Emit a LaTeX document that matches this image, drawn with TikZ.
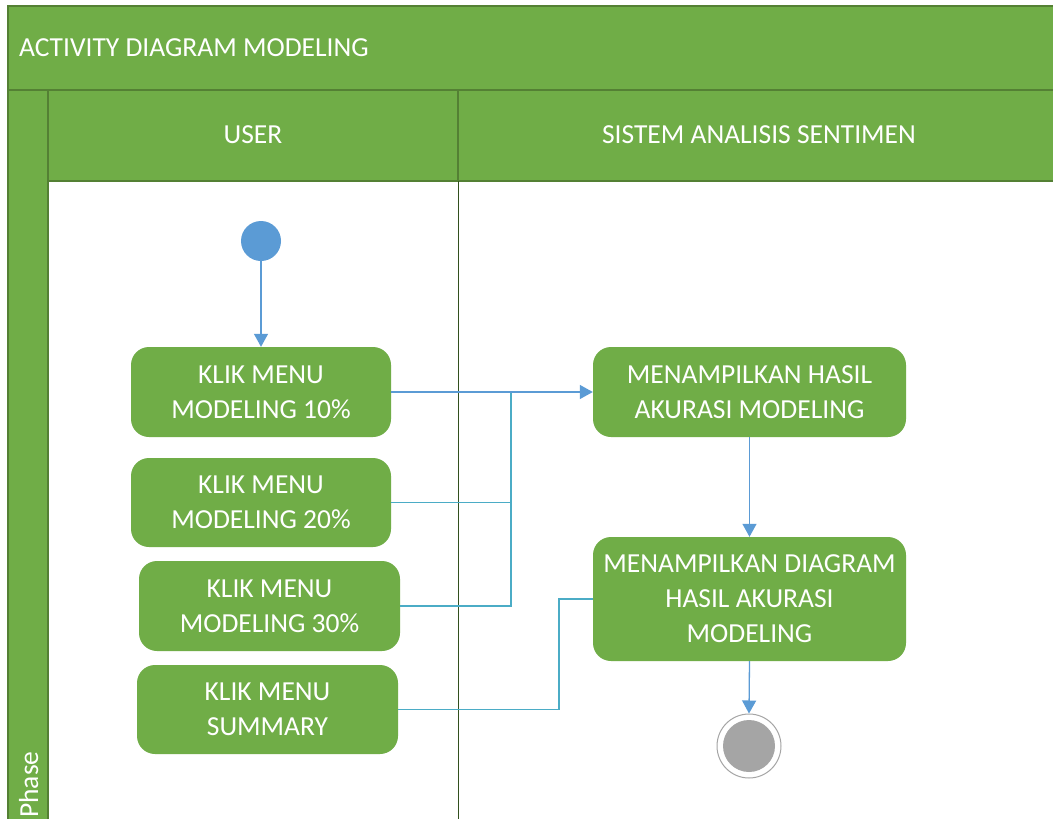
\documentclass[tikz,border=0pt]{standalone}
\usepackage{fontspec}
\setmainfont{Carlito}
\usetikzlibrary{arrows.meta}
\definecolor{lanegreen}{RGB}{112,173,71}
\definecolor{laneedge}{RGB}{84,128,52}
\definecolor{laneline}{RGB}{50,80,30}
\definecolor{flowblue}{RGB}{91,155,213}
\definecolor{joinblue}{RGB}{75,172,198}
\definecolor{endgray}{RGB}{165,165,165}
\begin{document}
\begin{tikzpicture}[x=1pt,y=-1pt,
  lane/.style={draw=laneedge, fill=lanegreen, line width=1.2pt},
  lbl/.style={text=white, inner sep=0pt, font=\fontsize{27.5}{35}\selectfont},
  act/.style={rectangle, rounded corners=18pt, fill=lanegreen, text=white,
    align=center, inner sep=0pt, font=\fontsize{27.5}{35}\selectfont},
  flow/.style={draw=flowblue, line width=1.3pt, -{Triangle[width=14pt,length=13pt]}},
  joinline/.style={draw=joinblue, line width=1.6pt}]
% canvas
\fill[white] (0,0) rectangle (1053,819);
\useasboundingbox (0,0) rectangle (1053,819);
\clip (0,0) rectangle (1053,819);

% pool and lanes
\draw[lane] (8,6) rectangle (1080,90);
\draw[lane] (8,90) rectangle (48,850);
\draw[lane] (48,90) rectangle (458,181);
\draw[lane] (458,90) rectangle (1080,181);
\draw[laneline, line width=1pt] (458,181) -- (458,850);

\node[lbl, anchor=west] (title) at (19,48) {ACTIVITY DIAGRAM MODELING};
\node[lbl] (user) at (253,135) {USER};
\node[lbl] (sys) at (759,135) {SISTEM ANALISIS SENTIMEN};
\node[lbl, rotate=90, anchor=base west] (phase) at (38,818) {Phase};

% start
\node[circle, fill=flowblue, minimum size=40pt, inner sep=0pt] (start) at (261,241) {};

% user activities
\node[act, minimum width=260pt, minimum height=90pt] (b1) at (261,392) {KLIK MENU\\MODELING 10\%};
\node[act, minimum width=260pt, minimum height=89pt] (b2) at (261,502.5) {KLIK MENU\\MODELING 20\%};
\node[act, minimum width=261pt, minimum height=90pt] (b3) at (269.5,606) {KLIK MENU\\MODELING 30\%};
\node[act, minimum width=261pt, minimum height=89pt] (b4) at (267.5,709.5) {KLIK MENU\\SUMMARY};

% system activities
\node[act, minimum width=313pt, minimum height=90pt] (b5) at (749.5,392) {MENAMPILKAN HASIL\\AKURASI MODELING};
\node[act, minimum width=313pt, minimum height=124pt] (b6) at (749.5,599) {MENAMPILKAN DIAGRAM\\HASIL AKURASI\\MODELING};

% end
\node[circle, draw=endgray, fill=white, line width=1pt, minimum size=64pt, inner sep=0pt] (end) at (749,746) {};
\node[circle, fill=endgray, minimum size=52pt, inner sep=0pt] (endcore) at (end.center) {};

% joins
\coordinate (ja) at (511,392);
\coordinate (jb) at (559,709.5);
\draw[joinline] (b2.east) -| (ja) -- (580,392);
\draw[joinline] (b3.east) -| (ja);
\draw[joinline] (b4.east) -- (jb) |- (b6.west);

% flows
\draw[flow] (start.south) -- (b1.north);
\draw[flow] (b1.east) -- (b5.west);
\draw[flow] (b5.south) -- (b6.north);
\draw[flow] (b6.south) -- (end.north);
\end{tikzpicture}
\end{document}
